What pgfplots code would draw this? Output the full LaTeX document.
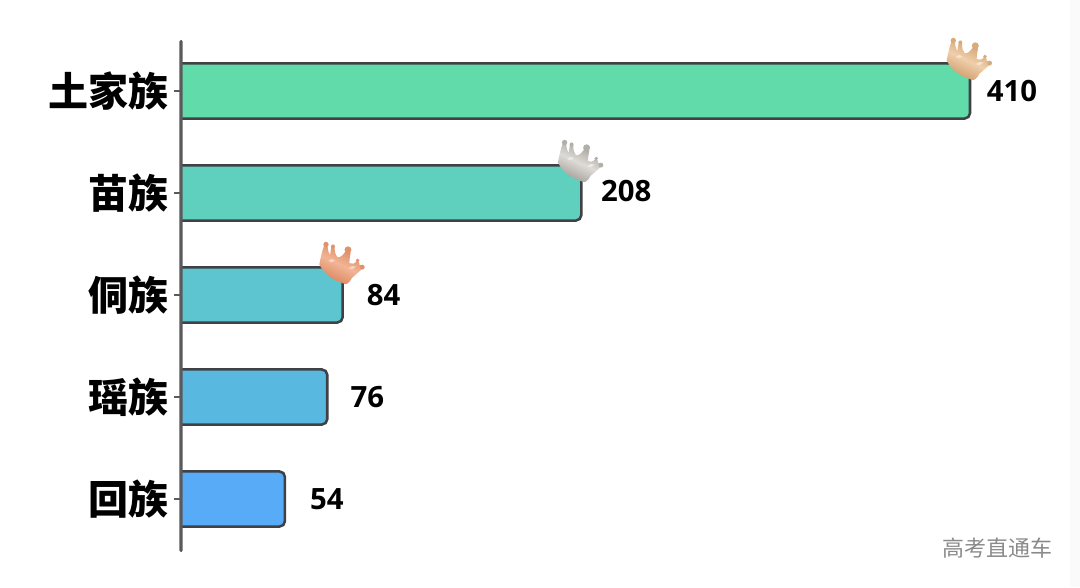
\documentclass[border=0pt]{standalone}
\usepackage{fontspec}
\usepackage{pgfplots}
\pgfplotsset{compat=1.18}
\setmainfont{Open Sans}
\newfontfamily\cjk{Noto Sans CJK SC}[BoldFont={Noto Sans CJK SC Black}]
\newfontfamily\cjklight{Noto Sans CJK SC}
\definecolor{b1}{HTML}{60DBA9}
\definecolor{b2}{HTML}{5FD0BE}
\definecolor{b3}{HTML}{5CC5D0}
\definecolor{b4}{HTML}{59B8E0}
\definecolor{b5}{HTML}{58ABF7}
\definecolor{edge}{HTML}{3F4145}
\definecolor{axisc}{HTML}{5A5A5C}
\definecolor{markc}{HTML}{8A8A8A}
% gold
\definecolor{gd}{HTML}{CE9A68}\definecolor{gl}{HTML}{EFCFAB}
% silver
\definecolor{sd}{HTML}{A09C96}\definecolor{sl}{HTML}{DEDBD6}
% bronze
\definecolor{cd}{HTML}{D9835C}\definecolor{cl}{HTML}{F2B595}
\newcommand{\crown}[4]{% x, y, dark, light
  \begin{scope}[shift={(axis cs:#1,#2)},x=0.25pt,y=-0.25pt,shift={(-6,-15)}]
    \shade[left color=#3, right color=#3, middle color=#4, shading angle=-25]
      (-64,6) .. controls (-60,-14) and (-56,-34) .. (-50,-50)
      .. controls (-46,-50) and (-42,-50) .. (-39,-48)
      .. controls (-38,-36) and (-36,-28) .. (-32,-22)
      .. controls (-30,-30) and (-30,-38) .. (-28,-46)
      .. controls (-24,-46) and (-20,-46) .. (-18,-44)
      .. controls (-18,-32) and (-16,-22) .. (-10,-16)
      .. controls (0,-14) and (6,-22) .. (14,-32)
      .. controls (20,-32) and (26,-32) .. (30,-30)
      .. controls (28,-18) and (26,-8) .. (26,2)
      .. controls (34,6) and (42,4) .. (48,-4)
      .. controls (52,-4) and (56,-2) .. (56,2)
      .. controls (54,6) and (56,10) .. (64,8)
      .. controls (70,14) and (68,18) .. (64,20)
      .. controls (54,28) and (42,40) .. (34,46)
      .. controls (24,66) and (14,66) .. (11,64)
      .. controls (-10,56) and (-44,46) .. (-64,6) -- cycle;
    \fill[#4!60!white] (-36,-6) .. controls (-30,4) and (-22,-2) .. (-16,-6)
      .. controls (-22,-12) and (-30,-12) .. (-36,-6) -- cycle;
    \fill[#4!60!white] (24,16) .. controls (30,24) and (40,20) .. (46,12)
      .. controls (38,10) and (30,10) .. (24,16) -- cycle;
    \fill[#3!70!#4] (-44,-54) circle [radius=2pt];
    \fill[#3!70!#4] (-23,-48) circle [radius=1.5pt];
    \fill[#3!70!#4] (22,-38) circle [radius=2.6pt];
    \fill[#3!70!#4] (51,-6) circle [radius=1.4pt];
    \fill[#3!70!#4] (65,14) circle [radius=1.8pt];
  \end{scope}}
\begin{document}
\begin{tikzpicture}[x=1pt,y=1pt]
\path[use as bounding box] (0,0) rectangle (810,440.25);
\fill[white] (0,0) rectangle (810,440.25);
\fill[black!2] (802.5,0) rectangle (810,440.25);
\begin{axis}[
  at={(135.75pt,26.25pt)},anchor=south west,
  scale only axis,width=663.9pt,height=384pt,
  xmin=0,xmax=460,ymin=-0.5196,ymax=4.5,
  xtick=\empty,
  axis y line=left,
  axis x line=none,
  y axis line style={-,draw=axisc},
  ytick={0,1,2,3,4},
  yticklabels={回族,瑶族,侗族,苗族,土家族},
  yticklabel style={font=\cjk\bfseries\fontsize{30}{30}\selectfont,color=black,inner sep=0pt,xshift=-5pt},
  major tick length=4.5pt,
  tick align=outside,
  y tick style={draw=axisc},
  clip mode=individual,
]
\addplot[fill=b5,draw=edge,line width=1.9pt,rounded corners=4pt] coordinates {(-8,-0.27)(54,-0.27)(54,0.27)(-8,0.27)} --cycle;
\addplot[fill=b4,draw=edge,line width=1.9pt,rounded corners=4pt] coordinates {(-8,0.73)(76,0.73)(76,1.27)(-8,1.27)} --cycle;
\addplot[fill=b3,draw=edge,line width=1.9pt,rounded corners=4pt] coordinates {(-8,1.73)(84,1.73)(84,2.27)(-8,2.27)} --cycle;
\addplot[fill=b2,draw=edge,line width=1.9pt,rounded corners=4pt] coordinates {(-8,2.73)(208,2.73)(208,3.27)(-8,3.27)} --cycle;
\addplot[fill=b1,draw=edge,line width=1.9pt,rounded corners=4pt] coordinates {(-8,3.73)(410,3.73)(410,4.27)(-8,4.27)} --cycle;
\addplot[only marks,mark=none,
  point meta=explicit symbolic,
  nodes near coords,
  visualization depends on={\thisrow{dx}\as\dxval},
  visualization depends on={\thisrow{dy}\as\dyval},
  every node near coord/.append style={anchor=center,font=\bfseries\fontsize{22}{22}\selectfont,color=black,xshift=\dxval pt,yshift=\dyval pt},
] table[x=x,y=y,meta=lab] {
x y dx dy lab
54 0 31.5 0 54
76 1 30 0 76
84 2 30.75 0 84
208 3 33.75 1.2 208
410 4 31.5 0 410
};
\crown{410}{4.27}{gd}{gl}
\crown{208}{3.27}{sd}{sl}
\crown{84}{2.27}{cd}{cl}
\end{axis}
% axis line and tick marks, filled, over the bars
\fill[axisc,rounded corners=1pt] (134.6,26.25) rectangle (136.9,410.25);
\fill[axisc] (130.5,65) rectangle (135.75,67);
\fill[axisc] (130.5,141.5) rectangle (135.75,143.5);
\fill[axisc] (130.5,218) rectangle (135.75,220);
\fill[axisc] (130.5,294.5) rectangle (135.75,296.5);
\fill[axisc] (130.5,371) rectangle (135.75,373);
\node[anchor=center,text=markc,font=\cjklight\fontsize{16.5}{16.5}\selectfont,inner sep=0pt] at (748,29.5) {高考直通车};
\end{tikzpicture}
\end{document}
